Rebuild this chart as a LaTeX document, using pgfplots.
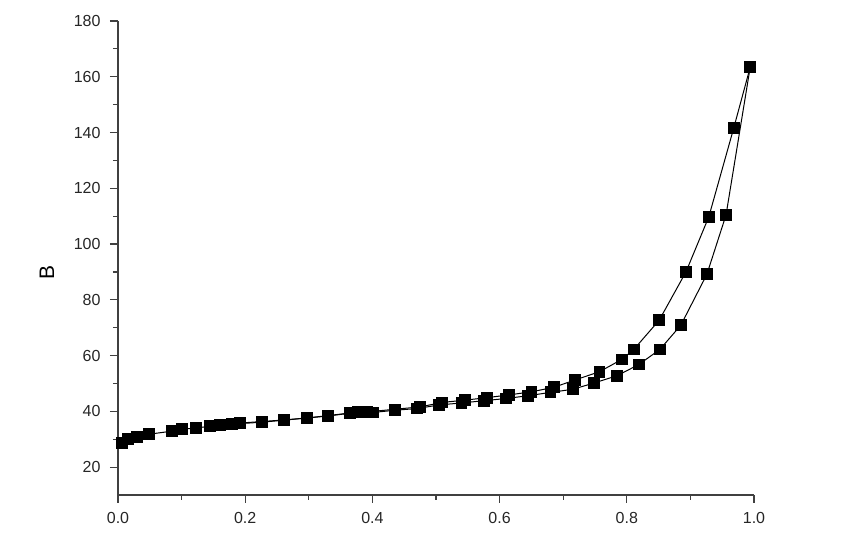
\documentclass[border=0pt]{standalone}
\usepackage{pgfplots}
\pgfplotsset{compat=1.18}
\usepackage{fontspec}
\setmainfont{Liberation Sans}

\begin{document}
\begin{tikzpicture}
\begin{axis}[
    scale only axis,
    width=318pt,
    height=237pt,
    xmin=0, xmax=1,
    ymin=10, ymax=180,
    axis lines*=left,
    axis line style={line width=0.6pt, black!75},
    tick align=outside,
    major tick length=4pt,
    minor tick length=2.5pt,
    every tick/.style={line width=0.6pt, black!75},
    xtick={0,0.2,0.4,0.6,0.8,1.0},
    minor x tick num=1,
    ytick={20,40,...,180},
    minor y tick num=1,
    tick label style={font=\fontsize{8}{9.5}\selectfont, text=black!85},
    yticklabel style={xshift=-1.2pt},
    xticklabel style={yshift=-1.2pt, /pgf/number format/.cd, fixed, fixed zerofill, precision=1},
    /pgf/number format/assume math mode=true,
    ylabel={B},
    ylabel style={font=\fontsize{10.5}{12}\selectfont, at={([xshift=-35.5pt]axis description cs:0,0.47)}, anchor=center},
    clip=false,
]

% adsorption branch
\addplot[black, line width=0.5pt, mark=square*, mark size=2.7pt, mark options={solid, fill=black}] coordinates {
    (0.006,28.7) (0.016,30.0) (0.030,30.8) (0.049,31.8) (0.085,32.9)
    (0.101,33.6) (0.123,34.0) (0.145,34.7) (0.179,35.4) (0.226,36.1)
    (0.297,37.6) (0.365,39.4) (0.401,39.6) (0.436,40.4) (0.470,41.0)
    (0.505,42.3) (0.540,43.0) (0.575,43.8) (0.610,44.6) (0.645,45.6)
    (0.680,46.8) (0.715,47.9) (0.749,50.2) (0.785,52.8) (0.819,56.8)
    (0.852,62.2) (0.885,70.9) (0.926,89.2) (0.956,110.4) (0.994,163.4)
};

% desorption branch
\addplot[black, line width=0.5pt, mark=square*, mark size=2.7pt, mark options={solid, fill=black}] coordinates {
    (0.994,163.4) (0.968,141.5) (0.929,109.8) (0.893,90.0) (0.851,72.7)
    (0.811,62.2) (0.792,58.6) (0.757,54.2) (0.718,51.2) (0.685,48.6)
    (0.650,47.0) (0.615,45.9) (0.580,44.9) (0.545,44.0) (0.510,43.2)
    (0.475,41.6) (0.392,39.8) (0.377,39.7) (0.330,38.3) (0.261,36.9)
    (0.192,35.8) (0.160,35.1)
};

\coordinate (sw) at (rel axis cs:0,0);
\coordinate (ne) at (rel axis cs:1,1);
\end{axis}
\pgfresetboundingbox
\path ([shift={(-59pt,-21pt)}]sw) rectangle ([shift={(43.5pt,10.5pt)}]ne);
\end{tikzpicture}
\end{document}
